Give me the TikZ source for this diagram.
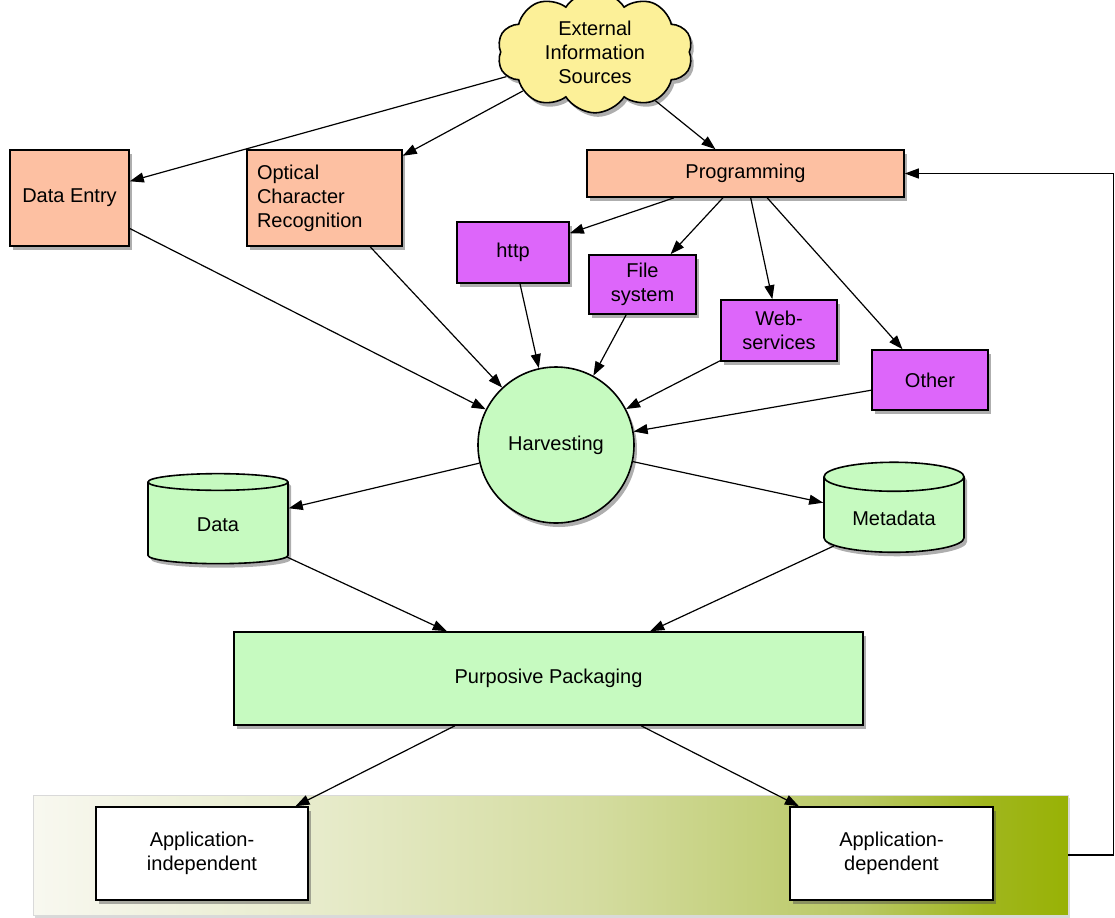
\documentclass[tikz,border=0pt]{standalone}
\usepackage{fontspec}
\setmainfont{Liberation Sans}
\usepackage{tikz}
\usetikzlibrary{arrows.meta, shapes.geometric, shapes.symbols, shadows}
\definecolor{lightsalmon}{RGB}{253,192,162}
\definecolor{lightviolet}{RGB}{221,102,250}
\definecolor{lightmint}{RGB}{198,250,192}
\definecolor{lightyellow}{RGB}{252,240,152}
\definecolor{barstart}{RGB}{248,248,240}
\definecolor{barone}{RGB}{232,236,205}
\definecolor{bartwo}{RGB}{212,220,160}
\definecolor{barthree}{RGB}{185,200,100}
\definecolor{barfour}{RGB}{160,182,30}
\definecolor{olivegreen}{RGB}{152,178,5}
\pgfdeclarehorizontalshading{appbar}{100bp}{color(0bp)=(barstart); color(25bp)=(barstart);
  color(38bp)=(barone); color(52bp)=(bartwo); color(65bp)=(barthree);
  color(71bp)=(barfour); color(75bp)=(olivegreen); color(100bp)=(olivegreen)}

\begin{document}
\begin{tikzpicture}[x=0.5pt, y=-0.5pt,
  font=\fontsize{10}{12}\selectfont,
  box/.style={draw, line width=0.8pt, rectangle, align=center, inner sep=2pt,
    drop shadow={shadow xshift=1.5pt, shadow yshift=-2pt, opacity=0.45, fill=black!70}},
  srcbox/.style={box, fill=lightsalmon},
  waybox/.style={box, fill=lightviolet},
  greenbox/.style={box, fill=lightmint},
  appbox/.style={box, fill=white, minimum width=#1, minimum height=46.5pt},
  storebox/.style={cylinder, shape border rotate=90, aspect=0.3, draw, line width=0.8pt,
    fill=lightmint, minimum width=70pt, minimum height=45pt,
    drop shadow={shadow xshift=1.5pt, shadow yshift=-2pt, opacity=0.45, fill=black!70}},
  arrow/.style={-{Triangle[length=7pt, width=5pt]}, line width=0.6pt}]

  \useasboundingbox (0,0) rectangle (1115,917);

  % Sources
  \node[cloud, cloud puffs=10, cloud puff arc=115, aspect=2, draw, line width=0.8pt,
        fill=lightyellow, inner sep=1pt, align=center,
        drop shadow={shadow xshift=1.5pt, shadow yshift=-2pt, opacity=0.45, fill=black!70}]
        (ext) at (595,52) {External\\Information\\Sources};
  \node[srcbox, minimum width=59.5pt, minimum height=48pt] (dentry) at (69.5,198) {Data Entry};
  \node[srcbox, text width=67.5pt, align=left, inner sep=5pt, minimum height=48pt]
        (ocr) at (324.5,198) {Optical\\Character\\Recognition};
  \node[srcbox, minimum width=158.5pt, minimum height=23.5pt] (prog) at (745.5,173.5) {Programming};

  % Ways of programming
  \node[waybox, minimum width=56pt, minimum height=30.5pt] (http) at (513,252.5) {http};
  \node[waybox, minimum width=53.5pt, minimum height=29.5pt] (fsys) at (642.5,284.5) {File\\system};
  \node[waybox, minimum width=58pt, minimum height=30.5pt] (websrv) at (779,330.5) {Web-\\services};
  \node[waybox, minimum width=58pt, minimum height=30pt] (other) at (930,380) {Other};

  % Harvesting and stores
  \node[circle, draw, line width=0.8pt, fill=lightmint, minimum size=78pt,
        drop shadow={shadow xshift=1.5pt, shadow yshift=-2pt, opacity=0.45, fill=black!70}]
        (harv) at (556,445) {Harvesting};
  \node[storebox] (data) at (218,525) {Data};
  \node[storebox] (meta) at (894,518) {Metadata};
  \node[greenbox, minimum width=314.5pt, minimum height=46.5pt] (pack) at (548.5,678.5) {Purposive Packaging};

  % Applications
  \node[shading=appbar, draw=black!15, minimum width=517.5pt, minimum height=60pt,
        drop shadow={shadow xshift=1pt, shadow yshift=-1.5pt, opacity=0.3, fill=black!50}]
        (bar) at (550.5,855) {};
  \node[appbox=106pt] (appind) at (202,853.5) {Application-\\independent};
  \node[appbox=101.5pt] (appdep) at (891.5,853.5) {Application-\\dependent};

  % Arrows
  \draw[arrow] (ext) -- (dentry);
  \draw[arrow] (ext) -- (ocr);
  \draw[arrow] (ext) -- (prog);
  \draw[arrow] (prog) -- (http);
  \draw[arrow] (prog) -- (fsys);
  \draw[arrow] (prog) -- (websrv);
  \draw[arrow] (prog) -- (other);
  \draw[arrow] (dentry) -- (harv);
  \draw[arrow] (ocr) -- (harv);
  \draw[arrow] (http) -- (harv);
  \draw[arrow] (fsys) -- (harv);
  \draw[arrow] (websrv) -- (harv);
  \draw[arrow] (other) -- (harv);
  \draw[arrow] (harv) -- (data);
  \draw[arrow] (harv) -- (meta);
  \draw[arrow] (data) -- (pack);
  \draw[arrow] (meta) -- (pack);
  \draw[arrow] (pack) -- (appind);
  \draw[arrow] (pack) -- (appdep);
  \draw[arrow] (bar.east) -- ++(45,0) |- (prog.east);
\end{tikzpicture}
\end{document}
